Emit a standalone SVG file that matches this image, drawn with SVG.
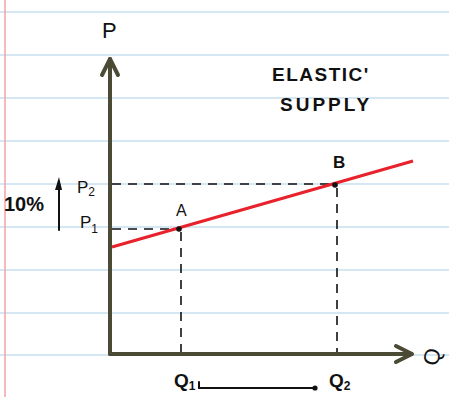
<svg xmlns="http://www.w3.org/2000/svg" width="449" height="397" viewBox="0 0 449 397">
<style>
.rule{stroke:#c9dff0;stroke-width:1.5}
.axis{stroke:#4b4a35;stroke-width:4;fill:none;stroke-linecap:round;stroke-linejoin:round}
.dash{stroke:#111;stroke-width:1.6;stroke-dasharray:9 7;fill:none}
.ink{fill:#111;font-family:"Liberation Sans",sans-serif}
.pen{stroke:#111;stroke-width:2;fill:none;stroke-linecap:round}
</style>
<rect width="449" height="397" fill="#fff"/>
<g id="paper">
<line class="rule" x1="0" y1="12" x2="449" y2="12"/>
<line class="rule" x1="0" y1="55" x2="449" y2="55"/>
<line class="rule" x1="0" y1="98" x2="449" y2="98"/>
<line class="rule" x1="0" y1="141" x2="449" y2="141"/>
<line class="rule" x1="0" y1="184" x2="449" y2="184"/>
<line class="rule" x1="0" y1="227" x2="449" y2="227"/>
<line class="rule" x1="0" y1="270" x2="449" y2="270"/>
<line class="rule" x1="0" y1="313" x2="449" y2="313"/>
<line class="rule" x1="0" y1="355" x2="449" y2="355"/>
<line x1="5" y1="0" x2="5" y2="397" stroke="#f4a0a8" stroke-width="1.5"/>
</g>
<g id="connectors">
<path class="dash" d="M112 184 H333"/>
<path class="dash" d="M112 229 H176"/>
<path class="dash" d="M181 232 V352" stroke-dasharray="10 8"/>
<path class="dash" d="M337 188 V352" stroke-dasharray="8 14"/>
<path class="pen" d="M59 230 V182"/>
<path d="M55 190 L59 177 L62 190 Z" fill="#111"/>
<path class="pen" d="M199 382 V388 H316"/>
<circle cx="315" cy="388" r="2.6" fill="#111"/>
</g>
<g id="axes">
<path class="axis" d="M110 354 V59"/>
<path class="axis" d="M102 75 L110 59 L118 75"/>
<path class="axis" d="M110 354 H411"/>
<path class="axis" d="M396 346 L412 354 L396 362"/>
</g>
<g id="supply">
<line x1="112" y1="247" x2="413" y2="161" stroke="#e8222c" stroke-width="3"/>
</g>
<g id="pointA">
<circle cx="179" cy="229" r="2.8" fill="#111"/>
<text class="ink" x="176" y="216" font-size="16">A</text>
</g>
<g id="pointB">
<circle cx="335" cy="185" r="2.8" fill="#111"/>
<text class="ink" x="333" y="168" font-size="17" font-weight="bold">B</text>
</g>
<g id="labels">
<text class="ink" x="102" y="38" font-size="22">P</text>
<text class="ink" font-size="22" transform="translate(437 367) rotate(-75)">Q</text>
<text class="ink" x="272" y="81" font-size="19" font-weight="bold" letter-spacing="1.5">ELASTIC'</text>
<text class="ink" x="280" y="111" font-size="19" font-weight="bold" letter-spacing="3">SUPPLY</text>
<text class="ink" x="77" y="193" font-size="17">P<tspan font-size="12" dy="3">2</tspan></text>
<text class="ink" x="80" y="228" font-size="17">P<tspan font-size="12" dy="5">1</tspan></text>
<text class="ink" x="4" y="211" font-size="20" font-weight="bold">10%</text>
<text class="ink" x="174" y="387" font-size="19" font-weight="bold">Q<tspan font-size="12" dy="3">1</tspan></text>
<text class="ink" x="329" y="387" font-size="19" font-weight="bold">Q<tspan font-size="12" dy="3">2</tspan></text>
</g>
</svg>
